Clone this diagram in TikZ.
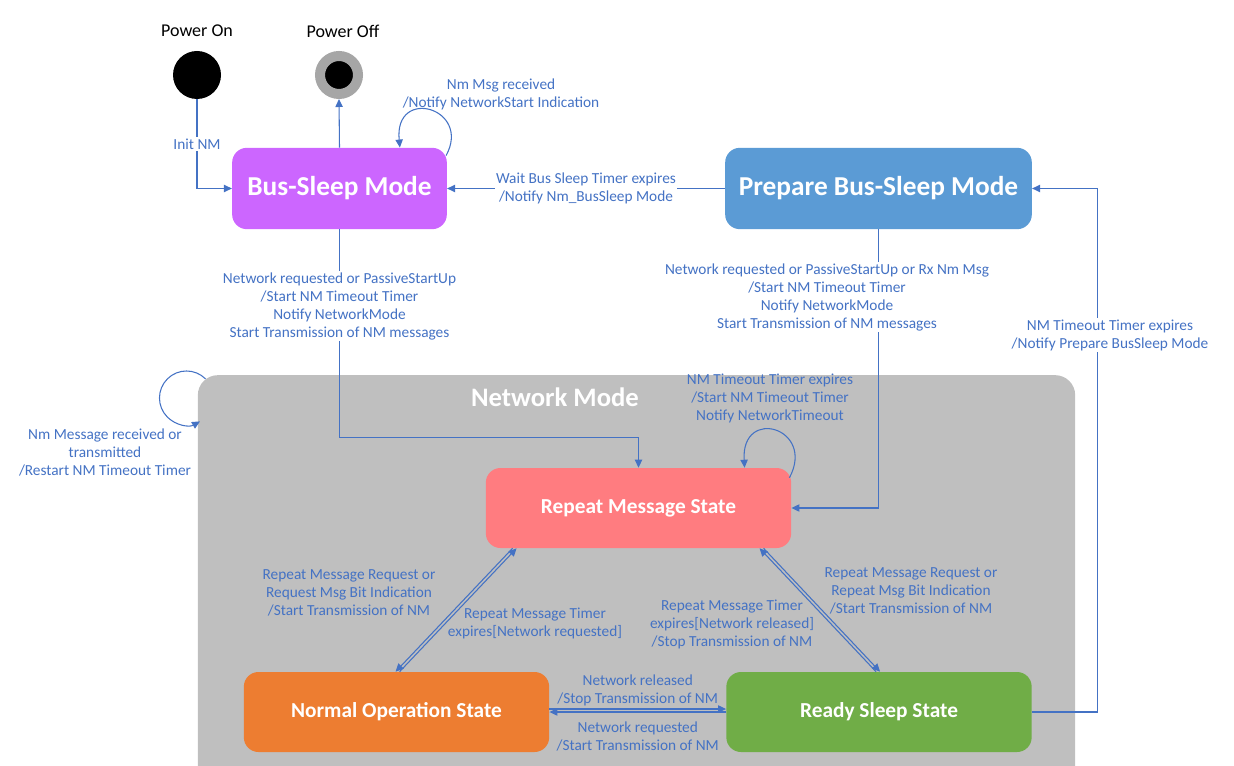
\documentclass[tikz,border=0pt]{standalone}
\usepackage{fontspec}
\setmainfont{Carlito}
\usetikzlibrary{arrows.meta,calc}

\definecolor{nmline}{HTML}{4472C4}
\definecolor{netgray}{HTML}{BFBFBF}
\definecolor{sleepc}{HTML}{CC66FF}
\definecolor{prepc}{HTML}{5B9BD5}
\definecolor{repc}{HTML}{FF7C80}
\definecolor{normc}{HTML}{ED7D31}
\definecolor{readyc}{HTML}{70AD47}
\definecolor{ringc}{HTML}{A6A6A6}

\begin{document}
\begin{tikzpicture}[x=0.75pt,y=-0.75pt,
  state/.style={rounded corners=11pt,text=white,inner sep=0pt,
    font=\bfseries\fontsize{16}{19}\selectfont,minimum width=229pt,minimum height=60pt},
  mode/.style={state,font=\bfseries\fontsize{20.5}{24}\selectfont,minimum height=61pt},
  lbl/.style={text=nmline,align=center,inner sep=1pt,font=\fontsize{11.5}{13.5}\selectfont},
  onwhite/.style={lbl,fill=white},
  trans/.style={draw=nmline,line width=0.8pt,-{Triangle[length=6pt,width=5.5pt]}}]

  \useasboundingbox (0,0) rectangle (1234,766);
  \clip (0,0) rectangle (1234,766);

  % Network mode group
  \node[fill=netgray,rounded corners=15pt,inner sep=0pt,
    minimum width=658pt,minimum height=311pt] (net) at (636.5,582.5) {};
  \node[text=white,font=\bfseries\fontsize{20}{24}\selectfont] (nettitle) at (555,397) {Network Mode};

  % power states
  \node[circle,fill=black,minimum size=36pt,inner sep=0pt] (pon) at (197,75) {};
  \node[circle,fill=black,draw=ringc,line width=7.5pt,minimum size=28.5pt,
    inner sep=0pt,outer sep=3.75pt] (poff) at (339,75) {};
  \node[font=\fontsize{13.5}{16}\selectfont] (ponlbl) at (197,31) {Power On};
  \node[font=\fontsize{13.5}{16}\selectfont] (pofflbl) at (343,31) {Power Off};

  % modes and states
  \node[mode,fill=sleepc,minimum width=161pt] (bus) at (339.5,188.5) {Bus-Sleep Mode};
  \node[mode,fill=prepc,minimum width=230pt] (prep) at (878.5,188.5) {Prepare Bus-Sleep Mode};
  \node[state,fill=repc] (rep) at (638.5,508) {Repeat Message State};
  \node[state,fill=normc] (norm) at (396.5,712) {Normal Operation State};
  \node[state,fill=readyc] (ready) at (879,712) {Ready Sleep State};

  % transitions
  \draw[trans] (pon) |- node[onwhite,pos=.25] {Init NM} (bus);
  \draw[trans] (bus.north) -- (poff.south);
  \draw[trans] ($(bus.north east)+(-1,8)$) .. controls (472,108) and (394,86) .. ($(bus.north west)+(168,0)$);
  \node[lbl] (lbmsg) at (501,94) {Nm Msg received\\/Notify NetworkStart Indication};

  \draw[trans] (prep) -- node[onwhite] {Wait Bus Sleep Timer expires\\/Notify Nm\_BusSleep Mode} (bus);

  \draw[trans] (bus.south) -- node[onwhite,pos=.37] {Network requested or PassiveStartUp\\/Start NM Timeout Timer\\Notify NetworkMode\\Start Transmission of NM messages}
    ($(bus.south)+(0,208)$) -| (rep);

  \draw[trans] (prep) |- (rep);
  \node[onwhite] (lbprep) at (827,297) {Network requested or PassiveStartUp or Rx Nm Msg\\/Start NM Timeout Timer\\Notify NetworkMode\\Start Transmission of NM messages};

  \draw[trans] (ready.east) -- ++(66,0) |- (prep.east);
  \node[onwhite] (lbready) at (1110,335) {NM Timeout Timer expires\\/Notify Prepare BusSleep Mode};

  \draw[trans] ($(rep.north east)+(-2,10)$) .. controls (816,428) and (741,406) .. ($(rep.north west)+(259,0)$);
  \node[lbl] (lbtimeout) at (770,398) {NM Timeout Timer expires\\/Start NM Timeout Timer\\Notify NetworkTimeout};

  \draw[trans] ($(net.north west)+(8,4)$) arc[start angle=-45,end angle=-300,radius=27];
  \node[lbl] (lbnet) at (105,453) {Nm Message received or\\transmitted\\/Restart NM Timeout Timer};

  % repeat message <-> normal operation
  \draw[trans] ($(norm.north west)+(156,0)$) -- ($(rep.south west)+(31,0)$);
  \draw[trans] ($(rep.south west)+(27,0)$) -- ($(norm.north west)+(152,0)$);
  \node[lbl] (lbnormup) at (349,593) {Repeat Message Request or\\Request Msg Bit Indication\\/Start Transmission of NM};
  \node[lbl] (lbnormdn) at (535,623) {Repeat Message Timer\\expires[Network requested]};

  % repeat message <-> ready sleep
  \draw[trans] ($(ready.north west)+(150,0)$) -- ($(rep.south west)+(274,0)$);
  \draw[trans] ($(rep.south west)+(278,0)$) -- ($(ready.north west)+(154,0)$);
  \node[lbl] (lbreadydn) at (732,624) {Repeat Message Timer\\expires[Network released]\\/Stop Transmission of NM};
  \node[lbl] (lbreadyup) at (911,591) {Repeat Message Request or\\Repeat Msg Bit Indication\\/Start Transmission of NM};

  % normal operation <-> ready sleep
  \draw[trans] ($(norm.east)+(0,-3)$) -- node[lbl,above=1pt] {Network released\\/Stop Transmission of NM} ($(ready.west)+(0,-3)$);
  \draw[trans] (ready.west) -- node[lbl,below=6pt] {Network requested\\/Start Transmission of NM} (norm.east);

\end{tikzpicture}
\end{document}
